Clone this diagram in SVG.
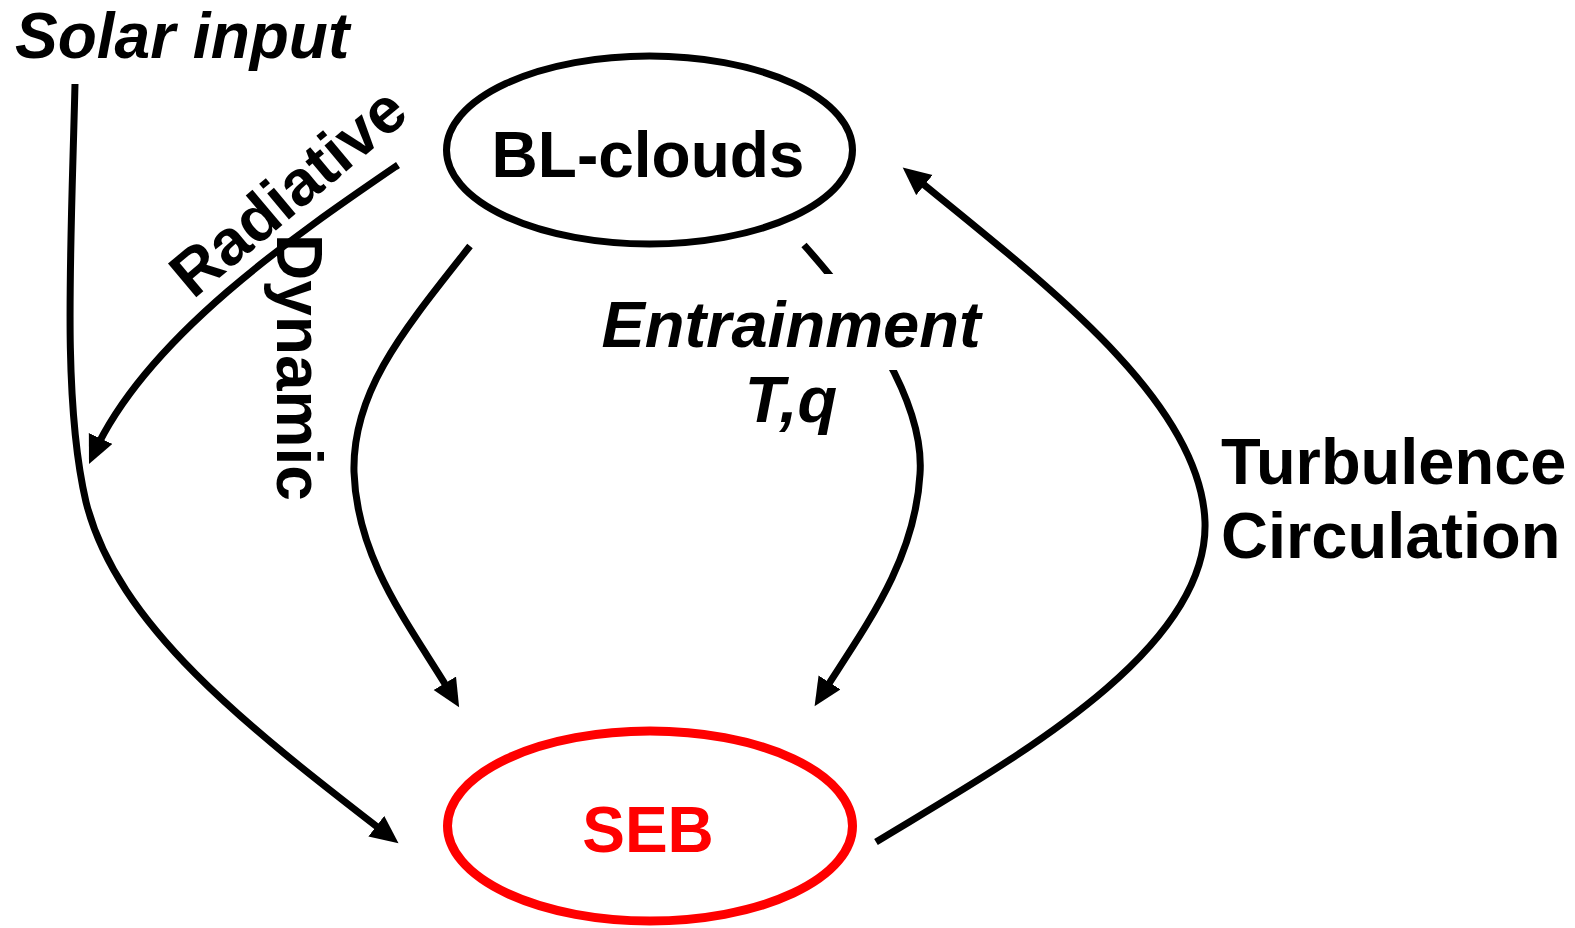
<svg xmlns="http://www.w3.org/2000/svg" width="1575" height="928" viewBox="0 0 1575 928">
<style>
.lbl{font-family:"Liberation Sans",Arial,sans-serif;font-weight:bold;font-size:64px;fill:#000}
.big{font-size:65px}
.it{font-style:italic}
.conn{fill:none;stroke:#000;stroke-width:7}
</style>
<defs>
<marker id="ah" markerUnits="userSpaceOnUse" markerWidth="30" markerHeight="28" refX="16" refY="13" orient="auto" viewBox="0 0 30 28">
<path d="M0,0 L28,13 L0,26 z" fill="#000"/>
</marker>
</defs>
<rect width="1575" height="928" fill="#fff"/>
<g id="connectors">
<path class="conn" d="M 75 84 C 71 250, 62 400, 86 502 C 117 625, 245 725, 389 836" marker-end="url(#ah)"/>
<path class="conn" d="M 398 165 C 300 232, 148 335, 94 453" marker-end="url(#ah)"/>
<path class="conn" d="M 470 246 C 402 332, 352 392, 354 472 C 357 562, 412 628, 453 697" marker-end="url(#ah)"/>
<path class="conn" d="M 804 245 C 864 312, 925 402, 920 474 C 915 562, 864 628, 821 696" marker-end="url(#ah)"/>
<path class="conn" d="M 876 842 C 1006 763, 1209 653, 1205 522 C 1201 402, 1047 285, 912 175" marker-end="url(#ah)"/>
</g>
<g id="bl-clouds">
<ellipse cx="649.5" cy="150" rx="203" ry="94" fill="#fff" stroke="#000" stroke-width="7"/>
<text class="lbl" x="648" y="177" text-anchor="middle">BL-clouds</text>
</g>
<g id="seb">
<ellipse cx="650" cy="826" rx="202.5" ry="95" fill="#fff" stroke="#f00" stroke-width="9"/>
<text class="lbl" x="648" y="852" text-anchor="middle" style="fill:#f00">SEB</text>
</g>
<g id="solar-input">
<text class="lbl it" x="15" y="58">Solar input</text>
</g>
<g id="label-radiative">
<text class="lbl" transform="translate(193,300) rotate(-40)">Radiative</text>
</g>
<g id="label-dynamic">
<text class="lbl" transform="translate(277,234) rotate(90)">Dynamic</text>
</g>
<g id="label-entrainment">
<rect x="598" y="274" width="384" height="96" fill="#fff"/>
<text class="lbl big it" x="791" y="347" text-anchor="middle">Entrainment</text>
<text class="lbl big it" x="791" y="422" text-anchor="middle">T,q</text>
</g>
<g id="label-turbulence">
<text class="lbl big" x="1221" y="484">Turbulence</text>
<text class="lbl big" x="1221" y="558">Circulation</text>
</g>
</svg>
